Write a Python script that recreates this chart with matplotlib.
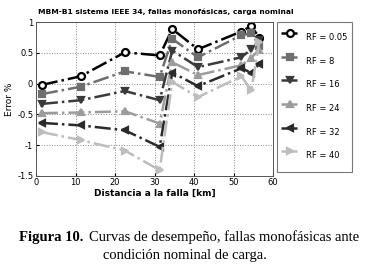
import matplotlib
matplotlib.use("Agg")
import matplotlib.pyplot as plt

# distances to the fault [km]
dist = [1.5, 11.3, 22.5, 31.3, 34.5, 41, 52, 54.5, 56.5]

rf_labels = ["RF = 0.05", "RF = 8", "RF = 16", "RF = 24", "RF = 32", "RF = 40"]
err_rf005 = [-0.02, 0.12, 0.51, 0.46, 0.89, 0.56, 0.85, 0.94, 0.75]
err_rf8 = [-0.17, -0.05, 0.20, 0.11, 0.73, 0.43, 0.79, 0.82, 0.62]
err_rf16 = [-0.33, -0.27, -0.12, -0.27, 0.54, 0.27, 0.43, 0.56, 0.71]
err_rf24 = [-0.48, -0.47, -0.45, -0.65, 0.35, 0.14, 0.30, 0.42, 0.55]
err_rf32 = [-0.64, -0.68, -0.76, -1.03, 0.18, -0.04, 0.25, 0.18, 0.32]
err_rf40 = [-0.79, -0.92, -1.09, -1.41, 0.03, -0.22, 0.12, -0.11, 0.68]

series = [err_rf005, err_rf8, err_rf16, err_rf24, err_rf32, err_rf40]
colors = ["#000000", "#6e6e6e", "#3a3a3a", "#9c9c9c", "#2a2a2a", "#bdbdbd"]
markers = ["o", "s", "v", "^", "<", ">"]

fig = plt.figure(figsize=(3.69, 2.66), dpi=100)
ax = fig.add_axes([36 / 369, 1 - 175.7 / 266, 237 / 369, 153.4 / 266])

for vals, lab, c, m in zip(series, rf_labels, colors, markers):
    mfc = "white" if m == "o" else c
    ax.plot(dist, vals, linestyle="-.", color=c, lw=1.8, marker=m, ms=5,
            mfc=mfc, mec=c, mew=1.6, label=lab)

ax.set_xlim(0, 60)
ax.set_ylim(-1.5, 1)
ax.set_xticks(range(0, 61, 10))
ax.set_yticks([-1.5, -1, -0.5, 0, 0.5, 1])
ax.set_yticklabels(["-1.5", "-1", "-0.5", "0", "0.5", "1"])
ax.tick_params(labelsize=6, length=2, direction="in", pad=2)
ax.grid(True, linestyle=":", color="#888888", lw=0.7)
for s in ax.spines.values():
    s.set_color("#555555")
    s.set_linewidth(0.7)

ax.set_xlabel("Distancia a la falla [km]", fontsize=6.5, fontweight="bold", labelpad=1)
ax.set_ylabel("Error %", fontsize=6.5, labelpad=2)
fig.text(166 / 369, 1 - 12 / 266, "MBM-B1 sistema IEEE 34, fallas monofásicas, carga nominal",
         fontsize=5.4, fontweight="bold", ha="center", va="center")

leg = fig.legend(loc="upper left", bbox_to_anchor=(277 / 369, 1 - 21.7 / 266),
                 fontsize=6, frameon=True, fancybox=False, edgecolor="#555555",
                 handlelength=2.0, handleheight=4.0, labelspacing=0.0,
                 borderpad=0.5, handletextpad=1.0, borderaxespad=0)
leg.get_frame().set_linewidth(0.8)

fig.text(19 / 369, 1 - 237 / 266, "Figura 10.", family="Liberation Serif",
         fontweight="bold", fontsize=10.5, va="center", ha="left")
fig.text(89 / 369, 1 - 237 / 266, "Curvas de desempeño, fallas monofásicas ante",
         family="Liberation Serif", fontsize=10.5, va="center", ha="left")
fig.text(0.5, 1 - 256 / 266, "condición nominal de carga.",
         family="Liberation Serif", fontsize=10.5, va="center", ha="center")

fig.savefig("out.png", dpi=100)
